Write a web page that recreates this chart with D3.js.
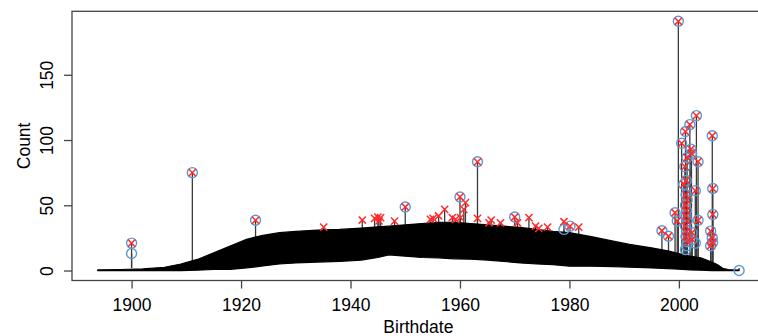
<!DOCTYPE html>
<html>
<head>
<meta charset="utf-8">
<script src="https://cdn.jsdelivr.net/npm/d3@7"></script>
<style>
  body { margin: 0; background: #fff; }
  svg { display: block; font-family: "Liberation Sans", Arial, sans-serif; }
</style>
</head>
<body>
<svg id="chart" width="758" height="336"></svg>
<script>
// daily counts band (line plot of daily births), read per few years: low / high edge
const bandYears = [1893.8, 1898, 1902, 1906, 1909, 1912, 1915, 1918, 1921, 1924, 1927, 1930, 1934, 1938, 1942, 1945, 1947, 1950, 1953, 1956, 1959, 1962, 1965, 1968, 1971, 1974, 1977, 1980, 1984, 1988, 1991, 1995, 1998, 2000, 2002, 2004, 2006, 2007, 2008, 2009, 2011];
const bandLow  = [0, 0, 0, 0, 0, 0.3, 0.8, 0.8, 2, 3.5, 5, 5.8, 6.5, 7, 8, 10, 12, 11, 10, 9.7, 9, 8.7, 8, 7, 5.8, 5, 4.5, 3.3, 3.3, 3, 2.5, 2, 1.5, 1, 0.5, 0.2, 0, 0, 0, 0, 0];
const bandHigh = [0.5, 0.8, 1.2, 2.5, 5, 8.5, 13.5, 18.7, 24, 27, 29, 30, 31, 31.5, 32.5, 33.5, 34, 35, 36, 37, 37, 36, 35, 34, 33, 31.5, 30, 29, 26, 22.5, 20, 17.4, 15, 13, 11, 9.7, 6.5, 4.6, 1.7, 0.8, 0.3];

// flagged days: [birthdate (decimal year), count]
const bothPoints = [
  [1900.0, 21], [1911.1, 75], [1922.65, 38.5], [1950.0, 48.7], [1960.0, 56.4], [1963.2, 83.3],
  [1970.0, 41], [1980.1, 34], [1996.9, 30.5], [1998.1, 26.3], [1999.3, 44.3], [1999.7, 38],
  [1999.9, 191], [2000.5, 97.5], [2000.9, 66], [2001.1, 79.6], [2001.2, 106.5], [2001.35, 69],
  [2001.5, 86.6], [2001.3, 58], [2001.5, 54], [2001.2, 50], [2001.4, 46], [2001.3, 42],
  [2001.5, 38], [2001.2, 34], [2001.4, 30], [2001.3, 26], [2001.5, 22], [2002.0, 111.8],
  [2002.2, 93], [2002.3, 89.7], [2002.4, 29], [2002.4, 23.8], [2003.0, 61.2], [2003.2, 118.7],
  [2003.5, 83.4], [2003.5, 38.5], [2005.8, 30.2], [2005.8, 19], [2006.1, 103.3], [2006.1, 25],
  [2006.15, 21.5], [2006.2, 62.8], [2006.2, 43]
];
const crossOnly = [
  [1935.1, 33.3], [1942.15, 38.7], [1944.4, 40], [1945.0, 41], [1945.2, 38], [1945.5, 40.5],
  [1948.05, 37.9], [1954.6, 39.2], [1955.1, 40], [1956.1, 41.8], [1957.2, 46.9], [1958.6, 40.5],
  [1959.2, 39.2], [1960.1, 40.5], [1960.7, 46.9], [1961.0, 52], [1963.2, 40], [1965.3, 36.6],
  [1965.7, 38.7], [1967.4, 36.6], [1970.5, 36.6], [1972.6, 40.5], [1973.8, 34], [1974.4, 32.3],
  [1976.0, 33.3], [1979.0, 37.4], [1981.7, 33.3]
];
const circleOnly = [[1900.0, 13], [1979.0, 31.5], [2001.2, 16], [2001.4, 19], [2003.0, 21], [2011.0, 0]];

const xTicks = [1900, 1920, 1940, 1960, 1980, 2000];
const yTicks = [0, 50, 100, 150];

const svg = d3.select("#chart");
const plotLeft = 72, plotTop = 11.3, plotBottom = 280.5;

const xMin = 1893.8, xMax = 2011.0, yMax = 191;
const xPad = (xMax - xMin) * 0.04, yPad = yMax * 0.04;
const pxPerYear = 5.473;

const x = d3.scaleLinear()
  .domain([xMin - xPad, xMax + xPad])
  .range([plotLeft, plotLeft + (xMax - xMin + 2 * xPad) * pxPerYear]);
const y = d3.scaleLinear()
  .domain([-yPad, yMax + yPad])
  .range([plotBottom, plotTop]);

// low edge of the band, so the spikes rise out of it
const bandBase = d3.scaleLinear().domain(bandYears).range(bandLow).clamp(true);

const g = svg.append("g");

// spikes for flagged days
const allPts = bothPoints.concat(crossOnly, circleOnly);
g.selectAll("line.spike")
  .data(allPts)
  .join("line")
  .attr("class", "spike")
  .attr("x1", d => x(d[0])).attr("x2", d => x(d[0]))
  .attr("y1", d => y(bandBase(d[0]) + 2)).attr("y2", d => y(d[1]))
  .attr("stroke", "#3a3a3a")
  .attr("stroke-width", 1.3);

// daily band
const band = bandYears.map((yr, i) => ({ yr, lo: bandLow[i], hi: bandHigh[i] }));
const area = d3.area()
  .x(d => x(d.yr))
  .y0(d => y(d.lo))
  .y1(d => y(d.hi));
g.append("path")
  .datum(band)
  .attr("d", area)
  .attr("fill", "#000")
  .attr("stroke", "#000")
  .attr("stroke-width", 1.2)
  .attr("stroke-linejoin", "round");

// circles
g.selectAll("circle.flag")
  .data(bothPoints.concat(circleOnly))
  .join("circle")
  .attr("class", "flag")
  .attr("cx", d => x(d[0]))
  .attr("cy", d => y(d[1]))
  .attr("r", 5)
  .attr("fill", "none")
  .attr("stroke", "#5b9bd5")
  .attr("stroke-width", 1.4);

// crosses
const s = 3.6;
g.selectAll("path.cross")
  .data(bothPoints.concat(crossOnly))
  .join("path")
  .attr("class", "cross")
  .attr("d", d => {
    const cx = x(d[0]), cy = y(d[1]);
    return `M${cx - s},${cy - s}L${cx + s},${cy + s}M${cx - s},${cy + s}L${cx + s},${cy - s}`;
  })
  .attr("fill", "none")
  .attr("stroke", "#ff2a2a")
  .attr("stroke-width", 1.5);

// box
const plotRight = x.range()[1];
svg.append("rect")
  .attr("x", plotLeft).attr("y", plotTop)
  .attr("width", plotRight - plotLeft).attr("height", plotBottom - plotTop)
  .attr("fill", "none")
  .attr("stroke", "#444")
  .attr("stroke-width", 1.3);

// x axis
const xAxis = svg.append("g").attr("transform", `translate(0,${plotBottom})`)
  .call(d3.axisBottom(x).tickValues(xTicks).tickSize(8).tickSizeOuter(0).tickFormat(d3.format("d")));
xAxis.select(".domain").remove();
xAxis.selectAll(".tick line").attr("stroke", "#444").attr("stroke-width", 1.3);
xAxis.selectAll(".tick text")
  .attr("y", 18).attr("dy", "0.71em")
  .attr("font-size", 17.5).attr("fill", "#000")
  .attr("font-family", "Liberation Sans, Arial, sans-serif");

// y axis
const yAxis = svg.append("g").attr("transform", `translate(${plotLeft},0)`)
  .call(d3.axisLeft(y).tickValues(yTicks).tickSize(8).tickSizeOuter(0));
yAxis.select(".domain").remove();
yAxis.selectAll(".tick line").attr("stroke", "#444").attr("stroke-width", 1.3);
yAxis.selectAll(".tick text")
  .attr("x", null).attr("dy", null)
  .attr("transform", "translate(-19,0) rotate(-90)")
  .attr("text-anchor", "middle")
  .attr("font-size", 17.5).attr("fill", "#000")
  .attr("font-family", "Liberation Sans, Arial, sans-serif");

// axis titles
svg.append("text")
  .attr("x", (plotLeft + plotRight) / 2).attr("y", 333)
  .attr("text-anchor", "middle")
  .attr("font-size", 17.5)
  .text("Birthdate");
svg.append("text")
  .attr("transform", `translate(30,${(plotTop + plotBottom) / 2}) rotate(-90)`)
  .attr("text-anchor", "middle")
  .attr("font-size", 17.5)
  .text("Count");
</script>
</body>
</html>
